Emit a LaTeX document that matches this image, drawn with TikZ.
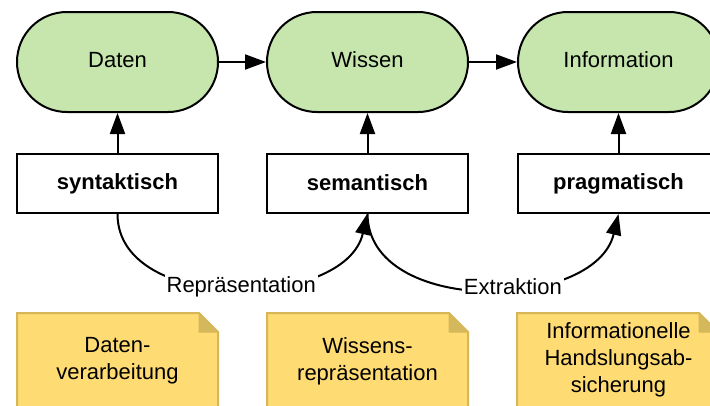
\documentclass[tikz,border=0pt]{standalone}
\usepackage{fontspec}
\setmainfont{Liberation Sans}
\usetikzlibrary{arrows.meta}
\definecolor{stagefill}{HTML}{C6E6AE}
\definecolor{notefill}{HTML}{FFDC73}
\definecolor{noteedge}{HTML}{D6B656}
\definecolor{notefold}{HTML}{D4B85C}
\tikzset{
  every node/.style={font=\fontsize{22}{27}\selectfont},
  stage/.style={draw=black, line width=2pt, fill=stagefill, rectangle,
    rounded corners=49.9pt, minimum width=201pt, minimum height=100pt, inner sep=0pt,
    text height=16pt, text depth=6pt},
  level/.style={draw=black, line width=2pt, fill=white, rectangle,
    minimum width=201pt, minimum height=59pt, inner sep=0pt, font=\fontsize{22}{27}\selectfont\bfseries},
  notetext/.style={align=center, inner sep=0pt},
  link/.style={line width=2pt, -{Triangle[length=21pt,width=15pt]}},
  tag/.style={fill=white, inner sep=2pt},
  note/.style={fill=notefill, draw=noteedge, line width=2pt},
  fold/.style={fill=notefold, draw=noteedge, line width=1pt, line join=round}
}
\begin{document}
\begin{tikzpicture}[x=1pt, y=-1pt]
\useasboundingbox (0,0) rectangle (710,405);

% top row: stages
\node[stage] (daten) at (117.5,62) {Daten};
\node[stage] (wissen) at (367.5,62) {Wissen};
\node[stage] (info) at (618.5,62) {Information};

% middle row: semiotic levels
\node[level] (syn) at (117.5,183.5) {syntaktisch};
\node[level] (sem) at (367.5,183) {semantisch};
\node[level] (prag) at (618.5,183.5) {pragmatisch};

% notes with folded corner
\foreach \l in {17,267,517}{
  \path[note] (\l,313) -- (\l+182,313) -- (\l+201,332) -- (\l+201,412) -- (\l,412) -- cycle;
  \path[fold] (\l+182,313) -- (\l+182,332) -- (\l+201,332) -- cycle;
}
\node[notetext] (n1) at (117.5,361) {Daten-\\verarbeitung};
\node[notetext] (n2) at (367.5,361) {Wissens-\\repräsentation};
\node[notetext] (n3) at (618.5,360) {Informationelle\\Handslungsab-\\sicherung};

% connectors between stages
\draw[link] (daten.east) -- (wissen.west);
\draw[link] (wissen.east) -- (info.west);

% levels feeding the stages
\draw[link] (syn.north) -- (daten.south);
\draw[link] (sem.north) -- (wissen.south);
\draw[link] (prag.north) -- (info.south);

% transitions between levels
\draw[link] (syn.south) .. controls (117.5,314) and (345,310) .. node[tag, pos=0.52] (rep) {Repräsentation} (sem.south);
\draw[link] (sem.south) .. controls (367.5,316) and (595,312) .. node[tag, pos=0.58] (ext) {Extraktion} (prag.south);
\end{tikzpicture}
\end{document}
